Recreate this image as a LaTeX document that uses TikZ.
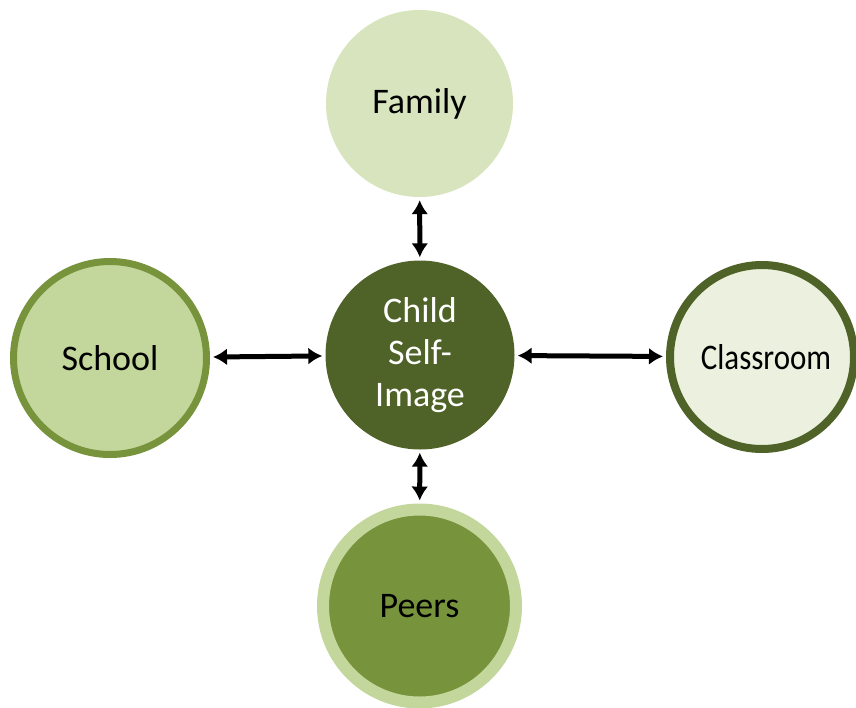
\documentclass[tikz,border=0pt]{standalone}
\usepackage{fontspec}
\setmainfont{Carlito}
\usetikzlibrary{arrows.meta}
\definecolor{famfill}{HTML}{D7E4BD}
\definecolor{schfill}{HTML}{C3D69B}
\definecolor{midgreen}{HTML}{77933C}
\definecolor{darkgreen}{HTML}{4F6228}
\definecolor{clsfill}{HTML}{EBF1DE}
\tikzset{
  bubble/.style={circle, inner sep=0pt, font=\fontsize{36}{42}\selectfont, align=center},
  link/.style={line width=5pt, {Latex[length=14pt,width=17pt]}-{Latex[length=14pt,width=17pt]}, shorten >=3pt, shorten <=3pt}
}
\begin{document}
\begin{tikzpicture}[x=1pt,y=-1pt]
\useasboundingbox (0,0) rectangle (856,707);
\node[bubble, fill=famfill, minimum size=187pt] (family) at (419.5,103.5) {Family};
\node[bubble, fill=darkgreen, text=white, minimum size=189pt] (child) at (420,355) {Child\\Self-\\Image};
\node[bubble, fill=schfill, draw=midgreen, line width=7pt, minimum size=193pt] (school) at (110,358) {School};
\node[bubble, fill=clsfill, draw=darkgreen, line width=8pt, minimum size=184pt] (class) at (762,357) {\hspace*{8pt}\scalebox{0.86}[1]{Classroom}};
\node[bubble, fill=midgreen, draw=schfill, line width=12pt, minimum size=193pt] (peers) at (419.5,606) {Peers};
\draw[link] (family) -- (child);
\draw[link] (child) -- (peers);
\draw[link] (school) -- (child);
\draw[link] (child) -- (class);
\end{tikzpicture}
\end{document}
